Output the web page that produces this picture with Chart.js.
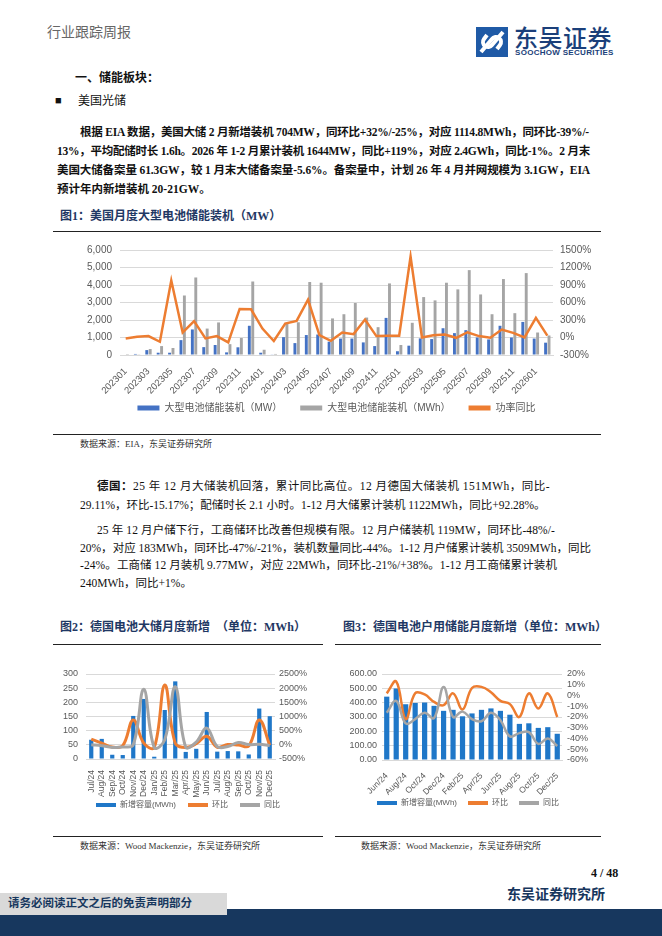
<!DOCTYPE html>
<html>
<head>
<meta charset="utf-8">
<script src="https://cdn.jsdelivr.net/npm/chart.js@4.4.1/dist/chart.umd.min.js"></script>
<style>
  body { margin:0; width:662px; height:936px; position:relative; overflow:hidden; background:#fff;
         font-family:"Liberation Serif","Noto Sans CJK SC",serif; color:#111; }
  .t { position:absolute; white-space:nowrap; line-height:1; }
  .b { font-weight:bold; }
  .rule { position:absolute; height:0; border-top:1.5px solid #222; }
  .fig { color:#1F3864; font-weight:bold; font-size:12px; }
  .src { font-size:9px; color:#333; }
  canvas { position:absolute; }
</style>
</head>
<body>

<div class="t" style="left:47px;top:26px;font-size:14px;color:#666;">行业跟踪周报</div>

<svg style="position:absolute;left:476px;top:27px" width="32" height="30" viewBox="0 0 32 30">
  <rect width="32" height="30" fill="#1F5AA6"/>
  <path d="M5 25 L16 12 A5 5 0 0 1 24 18 L21 22" stroke="#fff" stroke-width="4" fill="none"/>
  <path d="M27 5 L16 18 A5 5 0 0 1 8 12 L11 8" stroke="#fff" stroke-width="4" fill="none"/>
</svg>
<div class="t" style="left:514px;top:25px;font-size:24px;color:#1B3F7A;font-family:'Noto Sans CJK SC';font-weight:500;letter-spacing:0.5px;">东吴证券</div>
<div class="t" style="left:515px;top:49px;font-size:8px;color:#1B3F7A;font-family:'Liberation Sans';font-weight:bold;letter-spacing:0.3px;">SOOCHOW SECURITIES</div>

<div class="t b" style="left:75px;top:72px;font-size:12px;">一、储能板块：</div>
<div class="t" style="left:55px;top:95px;font-size:11px;">■</div>
<div class="t" style="left:78px;top:95px;font-size:12px;">美国光储</div>

<div class="t b" data-w="509" style="left:80px;top:127px;font-size:11.5px;">根据 EIA 数据，美国大储 2 月新增装机 704MW，同环比+32%/-25%，对应 1114.8MWh，同环比-39%/-</div>
<div class="t b" data-w="533" style="left:57px;top:146px;font-size:11.5px;">13%，平均配储时长 1.6h。2026 年 1-2 月累计装机 1644MW，同比+119%，对应 2.4GWh，同比-1%。2 月末</div>
<div class="t b" data-w="533" style="left:57px;top:165px;font-size:11.5px;">美国大储备案量 61.3GW，较 1 月末大储备案量-5.6%。备案量中，计划 26 年 4 月并网规模为 3.1GW，EIA</div>
<div class="t b" style="left:57px;top:184px;font-size:11.5px;">预计年内新增装机 20-21GW。</div>

<div class="t fig" style="left:60px;top:210px;">图1：美国月度大型电池储能装机（MW）</div>
<div class="rule" style="left:53px;top:231px;width:548px;"></div>

<canvas id="c1" width="548" height="187" style="left:53px;top:236px;"></canvas>

<div class="rule" style="left:53px;top:434px;width:548px;"></div>
<div class="t src" style="left:80px;top:440px;">数据来源：EIA，东吴证券研究所</div>

<div class="t" data-w="453" style="left:97px;top:481px;font-size:11.5px;"><b>德国：</b>25 年 12 月大储装机回落，累计同比高位。12 月德国大储装机 151MWh，同比-</div>
<div class="t" style="left:80px;top:500px;font-size:11.5px;">29.11%，环比-15.17%；配储时长 2.1 小时。1-12 月大储累计装机 1122MWh，同比+92.28%。</div>
<div class="t" data-w="458" style="left:97px;top:525px;font-size:11.5px;">25 年 12 月户储下行，工商储环比改善但规模有限。12 月户储装机 119MW，同环比-48%/-</div>
<div class="t" data-w="511" style="left:80px;top:543px;font-size:11.5px;">20%，对应 183MWh，同环比-47%/-21%，装机数量同比-44%。1-12 月户储累计装机 3509MWh，同比</div>
<div class="t" data-w="477" style="left:80px;top:560px;font-size:11.5px;">-24%。工商储 12 月装机 9.77MW，对应 22MWh，同环比-21%/+38%。1-12 月工商储累计装机</div>
<div class="t" style="left:80px;top:578px;font-size:11.5px;">240MWh，同比+1%。</div>

<div class="t fig" style="left:60px;top:621px;">图2：德国电池大储月度新增 &nbsp;（单位：MWh）</div>
<div class="t fig" style="left:343px;top:621px;">图3：德国电池户用储能月度新增（单位：MWh）</div>
<div class="rule" style="left:53px;top:644px;width:270px;"></div>
<div class="rule" style="left:335px;top:644px;width:266px;"></div>

<canvas id="c2" width="270" height="169" style="left:53px;top:650px;"></canvas>
<canvas id="c3" width="266" height="167" style="left:335px;top:650px;"></canvas>

<div class="rule" style="left:53px;top:836px;width:270px;"></div>
<div class="rule" style="left:335px;top:836px;width:266px;"></div>
<div class="t src" style="left:80px;top:842px;">数据来源：Wood Mackenzie，东吴证券研究所</div>
<div class="t src" style="left:361px;top:842px;">数据来源：Wood Mackenzie，东吴证券研究所</div>

<div class="t b" style="left:591px;top:867px;font-size:12px;">4 / 48</div>
<div class="t b" style="right:57px;top:888px;font-size:14px;color:#17365D;">东吴证券研究所</div>

<div style="position:absolute;left:0;top:909px;width:662px;height:27px;background:#17375E;"></div>
<div style="position:absolute;left:0;top:893px;width:227px;height:22px;background:#D9D9D9;"></div>
<div class="t b" style="left:8px;top:898px;font-size:11.5px;color:#17375E;">请务必阅读正文之后的免责声明部分</div>

<script>
// 图1 美国月度大型电池储能装机
const months = ['202301','202302','202303','202304','202305','202306','202307','202308','202309','202310','202311','202312',
                '202401','202402','202403','202404','202405','202406','202407','202408','202409','202410','202411','202412',
                '202501','202502','202503','202504','202505','202506','202507','202508','202509','202510','202511','202512',
                '202601','202602'];
const mwUS = [30, 60, 280, 130, 130, 850, 1460, 450, 570, 150, 440, 1670,
              130, 36, 1020, 680, 1140, 1170, 760, 940, 940, 720, 510, 2120,
              215, 533, 950, 910, 1530, 1250, 1420, 1000, 890, 1670, 1000, 1890,
              940, 704];
const mwhUS = [50, 40, 340, 510, 400, 3400, 4430, 1510, 1860, 620, 970, 4200,
               300, 60, 1800, 1870, 4170, 4130, 2090, 2330, 2970, 2140, 1590, 4090,
               570, 1840, 3310, 3120, 4130, 3750, 4850, 3460, 2330, 4340, 2390, 4680,
               1285, 1115];
const yoyUS = [-16, 12, 24, -73, 978, 86, 280, -16, 24, -84, 490, 484,
               154, -60, 240, 285, 650, 40, -56, 86, 58, 308, 24, 30,
               30, 1387, 0, 40, 52, -5, 90, 24, -5, 137, 80, 0,
               336, 32];

// 图2 德国大储
const deMonths = ['Jul/24','Aug/24','Sep/24','Oct/24','Nov/24','Dec/24','Jan/25','Feb/25','Mar/25',
                  'Apr/25','May/25','Jun/25','Jul/25','Aug/25','Sep/25','Oct/25','Nov/25','Dec/25'];
const deLarge = [68, 71, 15, 14, 152, 212, 8, 173, 274, 25, 36, 166, 26, 28, 27, 16, 178, 151];
const deLargeMom = [200, 60, -80, -30, 880, 60, -97, 2110, 60, -90, 40, 300, -85, 10, -5, -40, 880, -15];
const deLargeYoy = [0, -30, -90, -80, 0, 1960, -96, 180, 2050, -80, 100, 590, -60, -60, 80, 10, 17, -29];

// 图3 德国户储
const homeMonths = ['Jun/24','Jul/24','Aug/24','Sep/24','Oct/24','Nov/24','Dec/24','Jan/25','Feb/25','Mar/25',
                    'Apr/25','May/25','Jun/25','Jul/25','Aug/25','Sep/25','Oct/25','Nov/25','Dec/25'];
const deHome = [442, 499, 389, 398, 401, 378, 343, 350, 305, 325, 350, 360, 343, 316, 252, 256, 224, 229, 183];
const deHomeMom = [2, 13, -22, 2, 1, -6, -9, 2, -13, 7, 8, 3, -5, -8, -20, 2, -12, 2, -20];
const deHomeYoy = [-16, -5, -26, -22, -16, -21, 8, -20, -15, -22, -24, -16, -23, -38, -35, -34, -45, -40, -47];

// 两端对齐的正文行
document.querySelectorAll('[data-w]').forEach(el => {
  const target = +el.dataset.w;
  const n = el.textContent.length;
  const nat = el.getBoundingClientRect().width;
  el.style.letterSpacing = ((target - nat) / n) + 'px';
});

Chart.defaults.font.family = "'Liberation Sans','Noto Sans CJK SC',sans-serif";
Chart.defaults.color = '#595959';
Chart.defaults.animation = false;
Chart.defaults.responsive = false;

const grid = '#D9D9D9';
// legend: flat boxes, original dataset order, extra gap after each item but the last
const legendLabels = gap => ch => {
  const items = Chart.defaults.plugins.legend.labels.generateLabels(ch)
    .map(l => ({...l, lineWidth: 0}))
    .sort((a, b) => a.datasetIndex - b.datasetIndex);
  return items.map((l, i) => i < items.length - 1 ? {...l, text: l.text + gap} : l);
};

new Chart(document.getElementById('c1'), {
  data: {
    labels: months,
    datasets: [
      { type:'bar', label:'大型电池储能装机（MW）', data: mwUS, backgroundColor:'#4472C4',
        yAxisID:'y', order:2, categoryPercentage:0.6, barPercentage:0.85 },
      { type:'bar', label:'大型电池储能装机（MWh）', data: mwhUS, backgroundColor:'#A5A5A5',
        yAxisID:'y', order:2, categoryPercentage:0.6, barPercentage:0.85 },
      { type:'line', label:'功率同比', data: yoyUS, borderColor:'#ED7D31', backgroundColor:'#ED7D31',
        borderWidth:2.5, pointRadius:0, tension:0, yAxisID:'y2', order:1 }
    ]
  },
  options: {
    layout: { padding: { top:13, bottom:0 } },
    plugins: {
      legend: { position:'bottom', fullSize:false,
        labels: { boxWidth:22, boxHeight:5, padding:8, font:{ size:10 },
                  generateLabels: legendLabels('\u2003') } },
      tooltip: { enabled:false }
    },
    scales: {
      x: { grid:{ display:false }, border:{ color:grid },
           ticks:{ autoSkip:false, minRotation:45, maxRotation:45, font:{ size:9.5 }, padding:3,
                   callback:(v, i) => i % 2 === 0 ? months[i] : '' },
           afterFit: s => { s.height = 40; } },
      y: { position:'left', min:0, max:6000,
           ticks:{ stepSize:1000, autoSkip:false, font:{ size:10 }, padding:8, callback: v => v.toLocaleString('en-US') },
           grid:{ color:grid, drawTicks:false }, border:{ display:false },
           afterFit: s => { s.width = 67; } },
      y2: { position:'right', min:-300, max:1500,
           ticks:{ stepSize:300, autoSkip:false, font:{ size:10 }, padding:7, callback: v => v + '%' },
           grid:{ display:false, drawTicks:false }, border:{ display:false },
           afterFit: s => { s.width = 48; } }
    }
  }
});

function germanChart(id, labels, bars, mom, yoy, opt) {
  new Chart(document.getElementById(id), {
    data: {
      labels: labels,
      datasets: [
        { type:'bar', label:'新增容量(MWh)', data: bars, backgroundColor:'#1F77C8',
          yAxisID:'y', order:3, categoryPercentage:1, barPercentage:opt.barPct },
        { type:'line', label:'环比', data: mom, borderColor:'#ED7D31', backgroundColor:'#ED7D31',
          borderWidth:opt.lw, pointRadius:0, tension:0.4, yAxisID:'y2', order:2 },
        { type:'line', label:'同比', data: yoy, borderColor:'#A5A5A5', backgroundColor:'#A5A5A5',
          borderWidth:opt.lw, pointRadius:0, tension:0.4, yAxisID:'y2', order:1 }
      ]
    },
    options: {
      layout: { padding: { top:24, bottom:0 } },
      plugins: {
        legend: { position:'bottom',
          labels: { boxWidth:20, boxHeight:4, padding:opt.legPad, font:{ size:8 },
                    generateLabels: legendLabels('\u2003') } },
        tooltip: { enabled:false }
      },
      scales: {
        x: { grid:{ display:false }, border:{ color:grid },
             ticks:{ autoSkip:false, minRotation:opt.rot, maxRotation:opt.rot, font:{ size:8.5 }, padding:3,
                     callback:(v, i) => (i % opt.every === 0) ? labels[i] : '' },
             afterFit: s => { s.height = opt.xh; } },
        y: { position:'left', min:opt.yMin, max:opt.yMax,
             ticks:{ stepSize:opt.yStep, autoSkip:false, font:{ size:9 }, padding:opt.lpad, callback: opt.yFmt },
             grid:{ color:grid, drawTicks:false }, border:{ display:false },
             afterFit: s => { s.width = opt.lw1; } },
        y2: { position:'right', min:opt.pMin, max:opt.pMax,
             ticks:{ stepSize:opt.pStep, autoSkip:false, font:{ size:9 }, padding:opt.rpad, callback: v => v + '%' },
             grid:{ display:false, drawTicks:false }, border:{ display:false },
             afterFit: s => { s.width = opt.rw; } }
      }
    }
  });
}

germanChart('c2', deMonths, deLarge, deLargeMom, deLargeYoy, {
  barPct:0.4, lw:3, rot:90, every:1, xh:38, legPad:4,
  yMin:0, yMax:300, yStep:50, yFmt: v => v, lpad:8, lw1:33,
  pMin:-500, pMax:2500, pStep:500, rpad:4, rw:48
});

germanChart('c3', homeMonths, deHome, deHomeMom, deHomeYoy, {
  barPct:0.55, lw:2.5, rot:45, every:2, xh:36, legPad:3,
  yMin:0, yMax:600, yStep:100, yFmt: v => v.toFixed(2), lpad:5, lw1:47,
  pMin:-60, pMax:20, pStep:10, rpad:5, rw:39
});
</script>
</body>
</html>
